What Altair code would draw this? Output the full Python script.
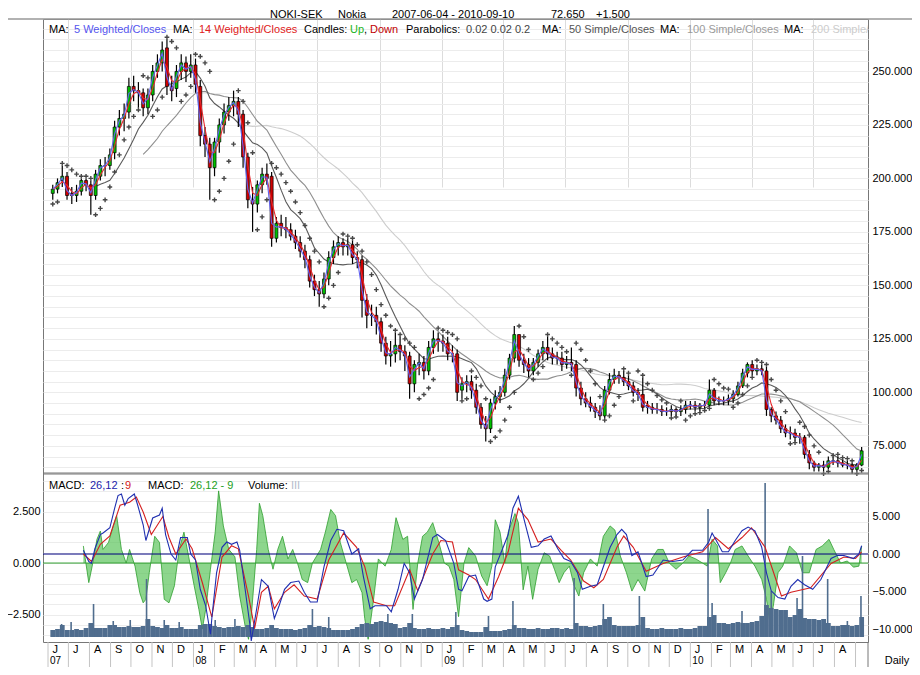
import altair as alt
import pandas as pd

FONT = "Liberation Sans"

# ---------------- weekly price bars (Fridays 2007-06-08 .. 2010-09-10), SEK ----------------
FIRST_WEEK = "2007-06-08"
close = [195,198,201,192,192,194,199,197,192,202,
         206,206,211,224,228,230,243,241,240,233,
         239,250,254,260,243,241,250,254,250,253,
         244,220,216,205,217,225,231,234,236,230,
         210,190,188,197,202,200,172,179,177,176,
         173,170,166,162,152,148,146,153,163,168,
         170,168,169,163,162,143,136,136,133,123,
         117,118,122,119,117,104,113,114,110,121,
         125,124,123,118,118,100,104,105,101,93,
         85,83,95,98,100,108,116,127,115,113,
         110,114,118,121,118,116,116,113,114,113,
         102,97,95,93,91,89,101,106,108,107,
         105,103,100,99,93,93,92,92,91,91,
         92,91,92,94,94,93,94,94,101,96,
         96,96,97,99,103,109,113,110,111,110,
         92,89,87,83,81,81,79,79,71,67,
         65,66,65,68,68,67,66,66,64,66,
         72.65]
open_ = [193,195,199,201,193,192,194,199,197,192,
         201,206,206,212,224,228,231,243,241,240,
         233,239,250,254,261,243,242,250,254,250,
         253,243,220,216,205,217,225,231,234,236,
         230,210,190,188,197,202,201,172,179,177,
         176,173,170,166,162,152,148,146,153,163,
         168,170,168,169,163,162,143,136,136,133,
         123,117,118,122,119,117,104,113,114,110,
         121,125,124,123,118,118,101,104,105,101,
         93,85,83,95,98,100,108,116,127,115,
         113,110,114,118,121,118,116,116,113,114,
         113,102,97,95,93,91,89,101,106,108,
         107,105,103,100,99,94,93,92,92,91,
         91,92,91,92,94,94,93,94,94,101,
         96,96,96,97,99,103,109,113,110,111,
         110,92,89,87,83,81,81,79,79,71,
         67,65,66,65,68,68,67,66,66,64,
         66]
high = [197,200,206,203,196,197,200,200,199,204,
        209,210,214,227,232,235,247,248,245,242,
        242,253,258,264,265,248,253,258,257,258,
        256,246,224,219,219,228,235,238,241,238,
        232,212,196,199,205,207,203,182,183,182,
        179,176,173,169,164,155,152,156,166,171,
        173,172,172,171,166,164,146,141,140,135,
        126,124,128,126,122,119,115,118,117,124,
        129,128,127,126,122,120,107,108,108,104,
        95,89,97,101,103,111,118,131,127,118,
        116,116,120,124,126,121,119,119,117,121,
        115,105,100,98,95,94,103,109,111,110,
        110,108,105,102,107,96,95,95,94,93,
        94,93,94,96,96,96,95,96,106,102,
        98,98,99,101,105,111,114,115,113,113,
        112,93,91,89,85,84,83,81,80,73,
        68,67,68,70,70,70,69,68,67,67,
        74.5]
low = [190,193,196,190,188,189,192,194,183,190,
       199,201,204,209,220,222,228,236,233,229,
       230,236,247,250,239,236,238,246,245,247,
       240,215,210,190,201,212,221,227,229,224,
       205,186,175,184,193,197,168,170,173,172,
       171,167,163,158,149,145,140,144,150,160,
       164,164,164,160,158,135,130,131,127,119,
       113,112,114,115,110,97,100,108,106,108,
       118,119,119,115,114,96,97,100,97,90,
       83,77,81,92,95,98,106,114,112,109,
       107,108,112,115,115,113,113,110,111,110,
       98,94,93,91,88,87,88,99,104,104,
       103,101,98,96,91,90,90,90,89,89,
       89,89,89,90,92,91,91,92,93,94,
       94,94,94,95,98,102,107,108,108,108,
       89,86,85,81,79,78,77,76,69,64,
       63,63,63,64,66,65,65,64,62,63,
       65.5]
# parabolic SAR
sar = [188,189,207,206,204,202,201,201,200,183,
       186,190,196,203,211,218,224,229,232,248,
       247,229,232,238,266,264,261,236,239,243,
       258,257,254,250,190,194,200,208,216,241,
       236,226,212,176,182,190,207,205,202,198,
       194,189,184,178,172,166,161,140,144,150,
       156,174,173,172,169,166,161,155,148,141,
       136,131,129,127,125,123,121,97,99,102,
       106,130,129,128,127,125,96,97,110,107,
       103,97,77,79,82,87,93,100,131,126,
       120,106,109,112,127,125,123,121,119,108,
       123,120,115,110,104,98,87,89,94,98,
       111,109,96,110,108,104,101,98.5,96.5,95,
       88,88.5,96,87,89,90,90.5,91.5,92.5,106,
       104,102,101.5,93,95,99,103,107,115,114,
       113,106,101,96,91,76,76.5,86,84,80,
       75,72,62,63,70.5,71,69.5,69,68,62,
       63.5]
# weekly volume level (relative units)
volume = [7,8,12,7,7,8,7,9,14,9,
          9,9,12,12,10,10,11,10,10,11,
          18,11,10,9,12,9,9,10,8,8,
          8,12,13,13,11,10,9,10,10,11,
          10,12,10,8,8,9,12,9,8,8,
          8,7,8,9,12,10,11,10,9,7,
          7,7,7,8,10,13,14,13,15,16,
          15,14,13,9,10,14,9,8,8,9,
          8,8,9,8,10,12,7,6,5,5,
          5,10,6,6,6,7,8,12,9,9,
          8,8,9,8,8,9,9,8,9,8,
          14,11,11,10,11,12,18,20,12,11,
          11,11,11,12,20,9,8,8,9,8,
          8,8,9,8,8,9,11,11,20,22,
          14,14,13,14,15,14,14,15,16,21,
          32,29,28,27,27,20,22,28,19,18,
          18,17,18,14,11,11,12,12,11,12,
          20]

# daily series: (days since 2007-06-04, value)
vol_spikes = [(17,13),(31,15),(64,33),(93,16),(118,17),(142,58),(168,17),(190,15),(243,17),
              (272,18),(386,28),(410,20),(497,23),(533,23),(597,25),(645,21),(681,36),(771,59),
              (814,33),(867,41),(968,128),(974,34),(1018,26),(1052,154),(1061,46),(1099,39),
              (1107,81),(1144,58),(1173,16),(1193,41)]
macd = [(49,0.5),(57,-1.0),(61,-1.25),(66,0.7),(74,2.6),(78,2.8),(88,3.5),(95,6.1),(100,7.8),
        (105,8.0),(110,6.5),(115,7.4),(124,8.0),(129,6.5),(137,3.9),(141,1.8),(151,4.8),(161,5.2),
        (165,6.1),(170,2.6),(178,0.0),(185,-0.8),(192,2.2),(202,2.2),(207,0.0),(214,-0.8),(221,-4.7),
        (229,-6.9),(236,-10.7),(238,-8.6),(245,-2.5),(253,0.9),(260,1.6),(267,1.3),(275,1.6),(279,0.5),
        (287,-4.7),(294,-9.4),(296,-11.6),(304,-7.3),(311,-3.4),(321,-4.3),(330,-8.6),(337,-6.9),
        (345,-4.7),(354,-3.8),(366,-3.6),(374,-5.1),(383,-6.4),(393,-6.4),(403,-1.7),(413,1.8),
        (422,3.3),(432,3.1),(444,0.0),(454,0.7),(461,-3.0),(471,-7.3),(478,-6.9),(495,-6.9),(502,-7.7),
        (512,-4.7),(521,-1.25),(529,-2.5),(536,-6.0),(548,-3.4),(563,2.2),(570,2.6),(582,1.8),
        (594,-1.25),(601,-4.7),(606,-4.9),(616,-3.0),(626,-2.8),(638,-6.0),(643,-6.3),(650,-6.0),
        (655,-1.7),(664,0.3),(674,2.6),(681,6.1),(689,7.7),(698,4.4),(708,0.9),(718,1.1),(727,2.0),
        (737,2.4),(747,0.7),(756,-0.6),(766,-1.0),(776,-2.5),(783,-4.7),(795,-4.3),(805,-4.1),
        (814,-1.7),(824,0.9),(834,2.6),(841,3.3),(848,2.6),(856,-0.2),(865,0.3),(877,-3.0),(887,-2.8),
        (902,-0.8),(916,-1.0),(931,-0.8),(945,0.5),(960,0.5),(969,1.6),(974,2.8),(979,2.0),(989,0.3),
        (998,0.3),(1008,1.8),(1018,3.1),(1027,3.6),(1037,3.1),(1047,0.9),(1054,-2.5),(1061,-4.9),
        (1071,-5.8),(1081,-6.0),(1090,-4.3),(1100,-3.4),(1110,-4.1),(1122,-4.7),(1134,-3.4),
        (1149,-0.6),(1158,-0.2),(1168,-0.2),(1182,-0.6),(1190,0.0),(1194,1.1)]
signal = [(49,0.0),(61,-1.0),(74,1.3),(88,2.4),(103,6.5),(117,6.9),(127,7.6),(137,5.6),(149,2.6),
          (166,5.0),(175,2.2),(185,0.0),(200,2.0),(209,0.7),(224,-3.8),(238,-8.4),(253,-0.4),
          (267,1.1),(277,0.7),(292,-5.6),(301,-9.9),(311,-5.1),(321,-4.3),(330,-7.3),(345,-5.1),
          (359,-4.1),(374,-5.6),(393,-6.0),(410,-0.8),(432,2.8),(451,0.9),(463,-1.7),(476,-6.4),
          (495,-6.9),(507,-6.9),(529,-2.1),(541,-4.9),(563,0.0),(575,1.8),(592,1.6),(601,-2.1),
          (616,-2.8),(626,-3.4),(645,-6.0),(660,-3.0),(674,0.3),(689,6.1),(703,4.6),(718,1.6),
          (737,2.0),(752,0.5),(766,-0.8),(785,-3.6),(800,-4.5),(814,-3.4),(834,0.9),(844,2.4),
          (858,0.9),(877,-2.3),(902,-1.25),(931,-0.4),(960,0.3),(979,2.2),(998,0.7),(1018,2.2),
          (1032,3.5),(1052,0.9),(1076,-5.6),(1090,-5.1),(1119,-4.5),(1149,-1.25),(1168,-0.4),
          (1185,-0.6),(1194,0.3)]
hist = [(49,0.83),(57,-0.95),(62,-0.15),(69,1.15),(74,1.55),(78,0.66),(86,1.0),(93,1.8),(98,2.3),
        (105,0.66),(112,0.0),(117,0.66),(125,-0.15),(132,-1.44),(137,-1.93),(141,-1.76),(146,-0.47),
        (154,1.3),(161,1.0),(168,-1.76),(175,-1.93),(183,-1.1),(190,0.66),(197,1.5),(204,0.3),
        (212,-1.1),(219,-2.25),(224,-3.2),(229,-2.25),(236,-0.3),(243,1.5),(248,3.5),(255,1.8),
        (263,0.66),(272,0.3),(279,-1.6),(287,-3.05),(292,-3.7),(296,-2.6),(304,0.66),(308,2.9),
        (313,2.3),(321,0.66),(328,-0.3),(335,0.66),(342,1.3),(350,0.2),(357,0.66),(364,0.0),
        (371,-0.8),(379,-0.95),(386,0.0),(398,0.66),(405,1.5),(413,2.6),(420,2.3),(427,1.0),
        (437,-0.15),(444,-0.95),(451,-0.8),(459,-1.44),(463,-2.7),(468,-3.7),(476,-1.76),(483,0.2),
        (493,-0.15),(502,0.66),(509,2.2),(519,1.15),(526,1.3),(534,-2.25),(541,0.0),(548,1.3),
        (555,1.5),(563,1.96),(572,1.0),(580,0.0),(587,-0.15),(594,-0.8),(601,-2.6),(609,0.0),
        (616,0.75),(626,0.34),(635,-0.63),(643,-1.1),(650,-0.15),(655,2.1),(662,1.5),(669,0.0),
        (674,1.5),(684,2.4),(689,1.96),(696,-1.3),(703,-0.15),(710,-1.76),(718,-0.3),(727,0.5),
        (735,0.34),(742,-0.3),(749,-0.95),(756,-0.47),(764,-0.15),(771,-1.1),(778,-1.6),(785,-0.47),
        (795,0.2),(805,-0.15),(814,1.3),(824,1.8),(831,1.6),(839,0.34),(848,-0.47),(856,-1.36),
        (865,-0.8),(875,-1.36),(885,0.2),(894,0.66),(902,0.66),(911,0.0),(921,-0.3),(931,0.0),
        (940,0.34),(950,0.2),(960,0.0),(967,-0.15),(974,1.15),(982,0.83),(986,-0.95),(994,-0.47),
        (1001,0.0),(1008,0.66),(1018,0.83),(1027,0.34),(1037,-0.15),(1047,-0.8),(1054,-1.76),
        (1059,-2.9),(1064,-2.1),(1071,-0.47),(1078,-0.15),(1088,0.83),(1098,0.5),(1107,-0.47),
        (1117,-0.47),(1127,0.66),(1136,0.83),(1146,1.15),(1153,0.66),(1163,0.0),(1173,0.1),
        (1182,-0.2),(1190,-0.15),(1194,0.83)]

year_ticks = ["2007-06-01", "2008-01-01", "2009-01-01", "2010-01-01"]
year_labels = ["07", "08", "09", "10"]

# ---------------- tables ----------------
for arr in (open_, high, low, sar, volume):
    assert len(arr) == len(close)

weeks = pd.date_range(FIRST_WEEK, periods=len(close), freq="7D")
px_df = pd.DataFrame({"date": weeks.strftime("%Y-%m-%dT00:00:00"),
                      "o": open_, "h": high, "l": low, "c": close,
                      "sar": sar, "vol": volume})
ORIGIN = pd.Timestamp("2007-06-04")


def day_frame(pairs, col):
    return pd.DataFrame({
        "date": [(ORIGIN + pd.Timedelta(days=d)).strftime("%Y-%m-%dT00:00:00") for d, _ in pairs],
        col: [v for _, v in pairs]})


macd_df = day_frame(macd, "m")
sig_df = day_frame(signal, "s")
hist_df = day_frame(hist, "v")
spike_df = day_frame(vol_spikes, "vol")
year_df = pd.DataFrame({"date": [d + "T00:00:00" for d in year_ticks], "lab": year_labels})
one = pd.DataFrame({"k": [0]})

# ---------------- geometry (one view holding both panels) ----------------
W = 825
TOP_H = 454               # price panel: 0 .. 454
BOT0, BOT1 = 455, 623     # indicator panel
H = BOT1

months = []
yy, mm = 2007, 6
while (yy, mm) <= (2010, 9):
    months.append((yy, mm))
    mm += 1
    if mm > 12:
        mm, yy = 1, yy + 1
month_vals = [alt.DateTime(year=a, month=b, date=1) for a, b in months]
month_df = pd.DataFrame({"date": [f"{a}-{b:02d}-01T00:00:00" for a, b in months]})

xscale = alt.Scale(domain=[alt.DateTime(year=2007, month=6, date=1),
                           alt.DateTime(year=2010, month=9, date=12)])
xaxis = alt.Axis(values=month_vals,
                 labelExpr="(year(datum.value) == 2010 && month(datum.value) == 8) ? '' : substring(timeFormat(datum.value, '%b'), 0, 1)",
                 grid=True, gridColor="#dcdcdc",
                 gridOpacity={"condition": {"test": "month(datum.value) % 3 == 0", "value": 1}, "value": 0},
                 ticks=False, labelAlign="left", labelOffset=4, labelPadding=1, labelFontSize=11,
                 labelBaseline="top", labelFlush=False, labelOverlap=False, domain=False, title=None)


def X():
    return alt.X("date:T", scale=xscale, axis=xaxis)


pscale = alt.Scale(domain=[62.3, 274.5], range=[TOP_H, 0], nice=False, zero=False)
paxis = alt.Axis(orient="right", values=list(range(65, 275, 5)),
                 labelExpr="datum.value % 25 == 0 ? format(datum.value, '.3f') : ''",
                 grid=True, gridColor="#ececec", ticks=False, domain=False, title=None,
                 labelPadding=4, labelFontSize=11)


def YP(f):
    return alt.Y(f, type="quantitative", scale=pscale, axis=paxis)


def txt(s, x, y, color="#000000", size=11, clip=False, align="left"):
    return alt.Chart(one).mark_text(text=s, align=align, baseline="middle", font=FONT,
                                    fontSize=size, color=color, clip=clip).encode(
        x=alt.value(x), y=alt.value(y))


# ---------------- price panel ----------------
srt = [alt.SortField("date", order="ascending")]
base = alt.Chart(px_df)


def sma(n, name, color, width):
    return base.transform_window(**{name: "mean(c)", "n": "count()"}, frame=[-(n - 1), 0], sort=srt
                                 ).transform_filter(f"datum.n >= {n}").mark_line(
        color=color, strokeWidth=width).encode(x=X(), y=YP(name))


lags = base.transform_window(
    window=[alt.WindowFieldDef(**{"op": "lag", "field": "c", "param": 1, "as": "l1"}),
            alt.WindowFieldDef(**{"op": "lag", "field": "c", "param": 2, "as": "l2"})],
    sort=srt
).transform_calculate(
    l1="datum.l1 == null ? datum.c : datum.l1",
    l2="datum.l2 == null ? datum.l1 : datum.l2"
).transform_calculate(
    wma5="(3*datum.c + datum.l1)/4",
    wma14="(2*datum.c + 2*datum.l1 + datum.l2)/5"
)

ma200 = sma(40, "ma200", "#cdcdcd", 1.1)
ma100 = sma(20, "ma100", "#8f8f8f", 1.1)
ma50 = sma(10, "ma50", "#5a5a5a", 1.1)
wick = base.mark_rule(color="#000000", strokeWidth=1.2).encode(x=X(), y=YP("l"), y2=alt.Y2("h:Q"))
body = base.mark_bar(size=3, stroke="#000000", strokeWidth=0.7).encode(
    x=X(), y=YP("o"), y2=alt.Y2("c:Q"),
    color=alt.condition("datum.c >= datum.o", alt.value("#00c000"), alt.value("#d00000")))
wma14 = lags.mark_line(color="#e8282d", strokeWidth=1.1).encode(x=X(), y=YP("wma14"))
wma5 = lags.mark_line(color="#6262f0", strokeWidth=1.1).encode(x=X(), y=YP("wma5"))
sar_pts = base.mark_point(shape="M-1,0L1,0M0,-1L0,1", size=22, filled=False, color="#474747",
                          strokeWidth=1.4, opacity=1).encode(x=X(), y=YP("sar"))
price_layer = alt.layer(ma200, ma100, ma50, wick, body, wma14, wma5, sar_pts)

# ---------------- indicator panel ----------------
hscale = alt.Scale(domain=[-3.83, 4.32], range=[BOT1, BOT0], nice=False, zero=False)
haxis = alt.Axis(orient="left", values=[v / 2 for v in range(-7, 9)],
                 labelExpr="abs(datum.value) % 2.5 < 0.001 ? format(datum.value, '.3f') : ''",
                 grid=True, gridColor="#ececec", ticks=False, domain=False, title=None,
                 labelPadding=3, labelFontSize=11)
mscale = alt.Scale(domain=[-11.73, 10.67], range=[BOT1, BOT0], nice=False, zero=False)
maxis = alt.Axis(orient="right", values=[-10, -5, 0, 5], format=".3f", grid=False, ticks=False,
                 domain=False, title=None, labelPadding=4, labelFontSize=11)
vscale = alt.Scale(domain=[-5, 163], range=[BOT1, BOT0], nice=False, zero=False)

hist_area = alt.Chart(hist_df).mark_area(color="#5cc45c", opacity=0.7).encode(
    x=X(), y=alt.Y("v:Q", scale=hscale, axis=haxis), y2=alt.datum(0))
hist_edge = alt.Chart(hist_df).mark_line(color="#2e9e2e", strokeWidth=0.8).encode(
    x=X(), y=alt.Y("v:Q", scale=hscale, axis=haxis))
hist_zero = alt.Chart(one).transform_calculate(z="0").mark_rule(color="#2e9e2e", strokeWidth=1).encode(
    y=alt.Y("z:Q", scale=hscale, axis=haxis))
hist_layer = alt.layer(hist_area, hist_edge, hist_zero)

vol_bars = alt.Chart(px_df).mark_bar(size=4.8, color="#506d8e").encode(
    x=X(), y=alt.Y("vol:Q", scale=vscale, axis=None), y2=alt.datum(0))
vol_spk = alt.Chart(spike_df).mark_rule(color="#506d8e", strokeWidth=1.6).encode(
    x=X(), y=alt.Y("vol:Q", scale=vscale, axis=None), y2=alt.datum(0))
vol_layer = alt.layer(vol_bars, vol_spk)

macd_zero = alt.Chart(one).transform_calculate(z="0").mark_rule(color="#000080", strokeWidth=1).encode(
    y=alt.Y("z:Q", scale=mscale, axis=maxis))
sig_line = alt.Chart(sig_df).mark_line(color="#d42020", strokeWidth=1.1).encode(
    x=X(), y=alt.Y("s:Q", scale=mscale, axis=maxis))
macd_line = alt.Chart(macd_df).mark_line(color="#1f2fb0", strokeWidth=1.1).encode(
    x=X(), y=alt.Y("m:Q", scale=mscale, axis=maxis))
macd_layer = alt.layer(macd_zero, sig_line, macd_line)

# ---------------- frame, month separators & texts ----------------
frame_color = "#777777"
top_line = alt.Chart(one).mark_rule(color="#999999", strokeWidth=1.5).encode(
    x=alt.value(-35), x2=alt.value(W + 44), y=alt.value(0))
sep1 = alt.Chart(one).mark_rule(color=frame_color, strokeWidth=1).encode(
    x=alt.value(0), x2=alt.value(W), y=alt.value(TOP_H))
sep2 = alt.Chart(one).mark_rule(color=frame_color, strokeWidth=1).encode(
    x=alt.value(0), x2=alt.value(W), y=alt.value(BOT0))
month_sep = alt.Chart(month_df).mark_rule(color="#c4c4c4", strokeWidth=1).encode(
    x=X(), y=alt.value(H), y2=alt.value(H + 25))
right_edge = alt.Chart(one).mark_rule(color=frame_color, strokeWidth=1).encode(
    x=alt.value(W), y=alt.value(H), y2=alt.value(H + 25))
years = alt.Chart(year_df).mark_text(align="left", baseline="middle", dx=2, font=FONT,
                                     fontSize=10, color="#000000").encode(
    x=X(), y=alt.value(H + 19), text="lab:N")

title_parts = [("NOKI-SEK", 227), ("Nokia", 295), ("2007-06-04 - 2010-09-10", 349),
               ("72.650", 508), ("+1.500", 553)]
legend_top = [("MA:", 6, "#000000"), ("5 Weighted/Closes", 31, "#5555ee"),
              ("MA:", 130, "#000000"), ("14 Weighted/Closes", 156, "#e02020"),
              ("Candles:", 261, "#000000"), ("Up", 307, "#22b422"), (",", 321, "#000000"),
              ("Down", 327, "#c00000"), ("Parabolics:", 363, "#000000"),
              ("0.02  0.02  0.2", 423, "#444444"), ("MA:", 499, "#000000"),
              ("50 Simple/Closes", 526, "#555555"), ("MA:", 617, "#000000"),
              ("100 Simple/Closes", 644, "#9a9a9a"), ("MA:", 741, "#000000"),
              ("200 Simple/Closes", 768, "#cccccc")]
legend_bot = [("MACD:", 6, "#000000"), ("26,12", 47, "#2222aa"), (":", 78, "#000000"),
              ("9", 82, "#d42020"), ("MACD:", 105, "#000000"), ("26,12 - 9", 147, "#22a022"),
              ("Volume:", 205, "#000000"), ("III", 248, "#b4bccb")]

layers = [hist_layer, vol_layer, macd_layer, price_layer,
          top_line, sep1, sep2, month_sep, right_edge, years,
          txt("Daily", W + 29, H + 19, align="center")]
layers += [txt(s, x, -4.3, size=11) for s, x in title_parts]
layers += [txt(s, x, 11, color=c, clip=True) for s, x, c in legend_top]
layers += [txt(s, x, BOT0 + 12, color=c) for s, x, c in legend_bot]

chart = alt.layer(*layers).resolve_scale(y="independent").properties(
    width=W, height=H,
    autosize=alt.AutoSizeParams(type="none"),
    padding={"left": 35, "top": 11, "right": 44, "bottom": 25},
    background="white"
).configure_view(stroke=frame_color, strokeWidth=1).configure_axis(
    labelFont=FONT, labelColor="#000000"
)

chart.save("out.html", embed_options={"renderer": "svg", "actions": False})
